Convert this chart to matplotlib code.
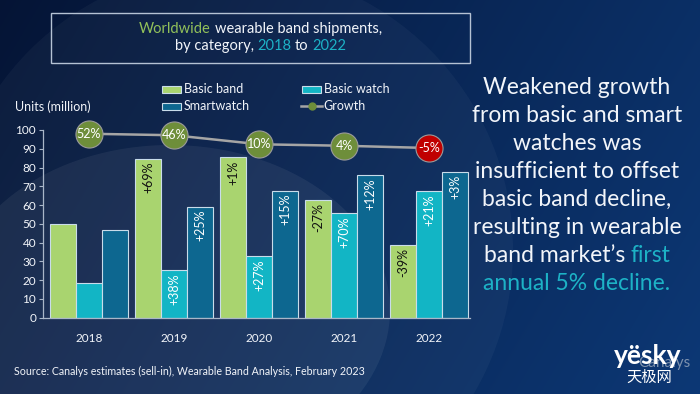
import numpy as np
import matplotlib
matplotlib.use("Agg")
import matplotlib.pyplot as plt
import matplotlib.patheffects as pe
from matplotlib.lines import Line2D
from matplotlib.patches import Ellipse, Rectangle

YEARS = ["2018", "2019", "2020", "2021", "2022"]
BASIC_BAND = [50.0, 84.7, 85.4, 62.7, 38.6]
BASIC_WATCH = [18.6, 25.2, 32.7, 55.6, 67.3]
SMARTWATCH = [46.5, 59.1, 67.7, 75.9, 77.8]
BAND_LABELS = ["", "+69%", "+1%", "-27%", "-39%"]
WATCH_LABELS = ["", "+38%", "+27%", "+70%", "+21%"]
SMART_LABELS = ["", "+25%", "+15%", "+12%", "+3%"]
GROWTH = [52, 46, 10, 4, -5]
Y_TICKS = list(range(0, 101, 10))

C_BAND = "#A9D46F"
C_WATCH = "#12B5C5"
C_SMART = "#0D6790"
C_EDGE = "#C9DCEA"
C_TEAL = "#1DB2C6"
C_GREEN_TXT = "#92C15A"
C_TEXT = "#F2F5FA"
FONT = ["Lato", "DejaVu Sans"]

plt.rcParams["font.family"] = FONT

W, H = 700, 394
fig = plt.figure(figsize=(W / 100, H / 100), dpi=100)

# background: gradient + soft lighter ellipses
bg = fig.add_axes([0, 0, 1, 1], zorder=0)
bg.set_xlim(0, W)
bg.set_ylim(H, 0)
bg.axis("off")
xx = np.linspace(0, 1, W)[None, :, None]
yy = np.linspace(0, 1, H)[:, None, None]
c0 = np.array([0.02, 0.08, 0.21])
c1 = np.array([0.05, 0.22, 0.46])
t = np.clip(0.75 * xx + 0.25 * yy, 0, 1)
img = c0 * (1 - t) + c1 * t
bg.imshow(img, extent=(0, W, H, 0), aspect="auto", zorder=0)
bg.add_patch(Ellipse((230, 250), 566, 566, facecolor="white", alpha=0.035, edgecolor="none", zorder=1))
bg.add_patch(Ellipse((170, 310), 440, 330, facecolor="white", alpha=0.06, edgecolor="none", zorder=1))

renderer = fig.canvas.get_renderer()


def text_width(s, **kw):
    tt = bg.text(0, 0, s, **kw)
    w = tt.get_window_extent(renderer).width
    tt.remove()
    return w


def colored_line(xc, y, parts, **kw):
    space = text_width("a a", **kw) - text_width("aa", **kw)
    widths = []
    for s, _ in parts:
        core = s.strip()
        w = text_width(core, **kw) if core else 0
        w += space * (len(s) - len(s.lstrip())) + space * (len(s) - len(s.rstrip()))
        widths.append(w)
    x = xc - sum(widths) / 2
    for (s, c), w in zip(parts, widths):
        lead = space * (len(s) - len(s.lstrip()))
        bg.text(x + lead, y, s.strip(), color=c, ha="left", va="center", **kw)
        x += w


# title box
bg.add_patch(Rectangle((51, 13), 419, 50, facecolor="none", edgecolor="#B5C2D4", lw=1.0, zorder=2))
colored_line(260.5, 29, [("Worldwide ", C_GREEN_TXT), ("wearable band shipments,", C_TEXT)], fontsize=10.5)
colored_line(260.5, 46, [("by category, ", C_TEXT), ("2018", C_TEAL), (" to ", C_TEXT), ("2022", C_TEAL)], fontsize=10.5)

# legend
for (x0, y0, col, lab) in [(162, 86, C_BAND, "Basic band"), (302, 86, C_WATCH, "Basic watch"),
                           (162, 103, C_SMART, "Smartwatch")]:
    bg.add_patch(Rectangle((x0, y0), 19, 6.5, facecolor=col, edgecolor=C_EDGE, lw=0.8, zorder=2))
    bg.text(x0 + 21.5, y0 + 3.3, lab, color=C_TEXT, fontsize=9, va="center", ha="left")
bg.add_line(Line2D([301, 322], [106, 106], color="#A5A5A5", lw=1.8, zorder=2))
bg.add_line(Line2D([311.5], [106], marker="o", ms=5, color="#6E8E3A", mec="#6E8E3A", zorder=3))
bg.text(323.5, 106.3, "Growth", color=C_TEXT, fontsize=9, va="center", ha="left")
bg.text(15, 107, "Units (million)", color=C_TEXT, fontsize=9, va="center", ha="left")

# main chart
ax = fig.add_axes([43 / W, 1 - 317.7 / H, (470 - 43) / W, (317.7 - 130) / H], zorder=2)
ax.patch.set_alpha(0)
x = np.arange(len(YEARS))
bw = 0.306
series = [(BASIC_BAND, C_BAND, BAND_LABELS, "#111111", -bw),
          (BASIC_WATCH, C_WATCH, WATCH_LABELS, "white", 0),
          (SMARTWATCH, C_SMART, SMART_LABELS, "white", bw)]
for vals, col, labs, tcol, off in series:
    ax.bar(x + off, vals, bw, color=col, edgecolor=C_EDGE, lw=0.8, zorder=2)
    for xi, v, lab in zip(x, vals, labs):
        if lab:
            ax.text(xi + off, v - 1.6, lab, rotation=90, ha="center", va="top",
                    color=tcol, fontsize=9, zorder=3)

ax.set_xlim(-0.541, 4.48)
ax.set_ylim(0, 100)
ax.set_yticks(Y_TICKS)
ax.set_xticks(x)
ax.set_xticklabels(YEARS)
ax.tick_params(axis="y", colors="#A9B6C8", labelcolor=C_TEXT, labelsize=8.5, length=3, width=0.8, pad=2)
ax.tick_params(axis="x", length=0, labelcolor=C_TEXT, labelsize=8.5, pad=11)
for side in ["top", "right"]:
    ax.spines[side].set_visible(False)
for side in ["left", "bottom"]:
    ax.spines[side].set_color("#A9B6C8")
    ax.spines[side].set_linewidth(0.9)

# growth line on a secondary scale
ax2 = ax.twinx()
ax2.set_zorder(3)
ax2.patch.set_alpha(0)
ax2.set_ylim(-683, 67)
ax2.axis("off")
ax2.plot(x, GROWTH, color="#A5A5A5", lw=1.8, zorder=1, clip_on=False)
for xi, g in zip(x, GROWTH):
    fc = "#C00000" if g < 0 else "#6E8E3A"
    ax2.plot([xi], [g], marker="o", ms=19.5, mfc=fc, mec="#9A9A9A", mew=0.8, zorder=2, clip_on=False)
    ax2.text(xi, g, f"{g}%", color="white", ha="center", va="center", fontsize=9, zorder=3)

# commentary on the right
lines = [
    [("Weakened growth", C_TEXT)],
    [("from basic and smart", C_TEXT)],
    [("watches was", C_TEXT)],
    [("insufficient to offset", C_TEXT)],
    [("basic band decline,", C_TEXT)],
    [("resulting in wearable", C_TEXT)],
    [("band market\u2019s ", C_TEXT), ("first", C_TEAL)],
    [("annual 5% decline.", C_TEAL)],
]
for i, parts in enumerate(lines):
    colored_line(577, 87 + 28 * i, parts, fontsize=16.5)

# footer
bg.text(14, 371, "Source: Canalys estimates (sell-in), Wearable Band Analysis, February 2023",
        color=C_TEXT, fontsize=7.7, ha="left", va="center")
bg.text(664, 363, "Canalys", color="#AEB9C8", fontsize=11, ha="center", va="center", alpha=0.7)
bg.text(648, 356, "y\u00ebsky", color="white", fontsize=19, fontweight="bold", ha="center", va="center")
bg.text(649, 377, "天极网", color="white", fontsize=11, ha="center", va="center",
        family=["Noto Sans CJK SC", "DejaVu Sans"])

fig.savefig("out.png", dpi=100)
